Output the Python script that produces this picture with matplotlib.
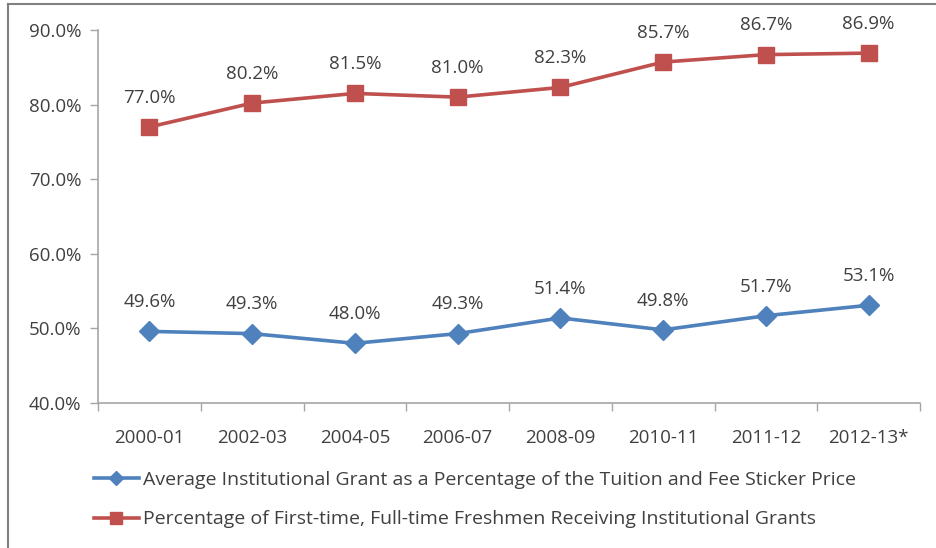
import matplotlib
matplotlib.use("Agg")
import matplotlib.pyplot as plt
from matplotlib.lines import Line2D
import numpy as np

categories = ["2000-01", "2002-03", "2004-05", "2006-07", "2008-09", "2010-11", "2011-12", "2012-13*"]
avg_grant = [49.6, 49.3, 48.0, 49.3, 51.4, 49.8, 51.7, 53.1]
pct_receiving = [77.0, 80.2, 81.5, 81.0, 82.3, 85.7, 86.7, 86.9]
yticks = [40, 50, 60, 70, 80, 90]

blue = "#4F81BD"
red = "#C0504D"
txt = "#404040"
gray = "#A6A6A6"

plt.rcParams['font.family'] = ['Open Sans', 'DejaVu Sans']
FS = 13.5

fig = plt.figure(figsize=(9.36, 5.48), dpi=100)
ax = fig.add_axes([98/936, 1-403/548, (920-98)/936, (403-30)/548])

x = np.arange(len(categories))
l1, = ax.plot(x, avg_grant, color=blue, lw=2.6, marker="D", markersize=10,
              label="Average Institutional Grant as a Percentage of the Tuition and Fee Sticker Price")
l2, = ax.plot(x, pct_receiving, color=red, lw=2.6, marker="s", markersize=11.5,
              label="Percentage of First-time, Full-time Freshmen Receiving Institutional Grants")

for xi, v in zip(x, avg_grant):
    ax.annotate(f"{v:.1f}%", (xi, v), xytext=(0, 21), textcoords="offset points",
                ha="center", va="center", fontsize=FS, color=txt)
for xi, v in zip(x, pct_receiving):
    ax.annotate(f"{v:.1f}%", (xi, v), xytext=(0, 21), textcoords="offset points",
                ha="center", va="center", fontsize=FS, color=txt)

ax.set_xlim(-0.5, len(categories) - 0.5)
ax.set_ylim(40, 90)
ax.set_yticks(yticks)
ax.set_yticklabels([f"{v:.1f}%" for v in yticks], fontsize=FS, color=txt)
ax.set_xticks(x)
ax.set_xticklabels(categories, fontsize=FS, color=txt)
ax.set_xticks(np.arange(len(categories) + 1) - 0.5, minor=True)
ax.tick_params(axis="x", which="major", length=0, pad=19)
ax.tick_params(axis="x", which="minor", length=6, color=gray, width=1)
ax.tick_params(axis="y", length=6, color=gray, width=1, pad=6)

for s in ["top", "right"]:
    ax.spines[s].set_visible(False)
for s in ["left", "bottom"]:
    ax.spines[s].set_color(gray)
    ax.spines[s].set_linewidth(1.2)

leg = fig.legend(handles=[l1, l2], loc="upper left", bbox_to_anchor=(94/936, 1-471/548),
                 frameon=False, fontsize=14, handlelength=2.3, handletextpad=0.2,
                 labelspacing=1.1, labelcolor=txt, borderaxespad=0, borderpad=0,
                 markerscale=0.75)

# outer frame (left and top edges)
fig.add_artist(Line2D([8/936, 8/936], [0, 1-4/548], transform=fig.transFigure, color="#808080", lw=1.5))
fig.add_artist(Line2D([8/936, 1], [1-4/548, 1-4/548], transform=fig.transFigure, color="#808080", lw=1.5))

fig.savefig("out.png", dpi=100)
